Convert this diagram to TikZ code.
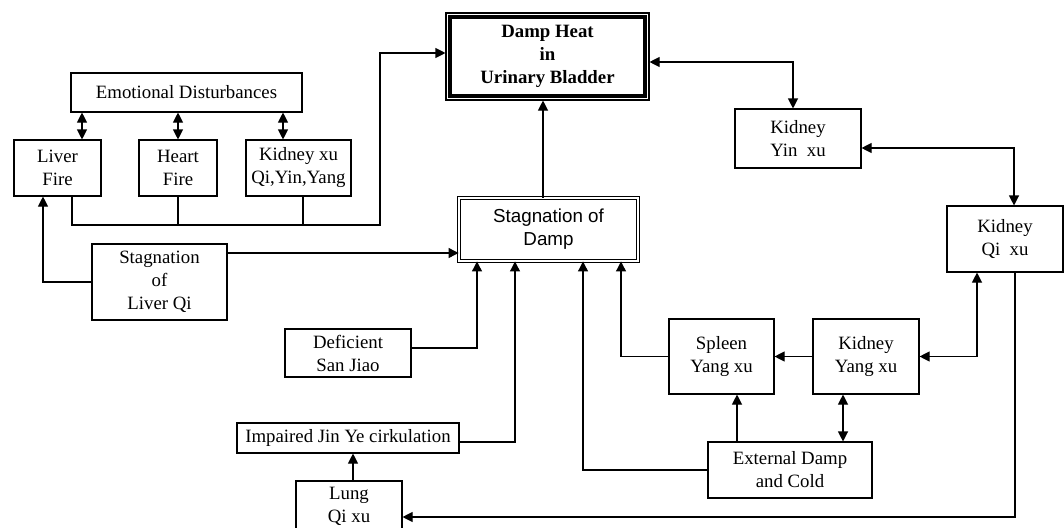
\documentclass[tikz,border=0pt]{standalone}
\usepackage{fontspec}
\setmainfont{Liberation Serif}
\newfontfamily\sansfnt{Liberation Sans}
\usetikzlibrary{arrows.meta}
\begin{document}
\begin{tikzpicture}[x=1pt,y=-1pt,
  line width=1.1pt,
  box/.style={draw, line width=1.1pt, align=center, inner sep=0pt,
    font=\fontsize{18.8}{23}\selectfont},
  arr/.style={-{Triangle[length=10pt,width=10pt]}},
  darr/.style={{Triangle[length=10pt,width=10pt]}-{Triangle[length=10pt,width=10pt]}}]
\useasboundingbox (0,0) rectangle (1064,527);
% nodes
\node[box, minimum width=203pt, minimum height=87pt, font=\fontsize{18.8}{23}\selectfont\bfseries] (dh) at (547.5,56.5) {Damp Heat\\in\\Urinary Bladder};
\draw[line width=4pt] ([xshift=5pt,yshift=-5pt]dh.north west) rectangle ([xshift=-5pt,yshift=5pt]dh.south east);
\node[box, minimum width=179pt, minimum height=63pt, double, line width=0.9pt, double distance=2pt, font=\sansfnt\fontsize{18.8}{23}\selectfont] (sd) at (548.5,229.5) {Stagnation of\\Damp};
\node[box, minimum width=231pt, minimum height=39pt] (ed) at (186.5,92.5) {Emotional Disturbances};
\node[box, minimum width=87pt, minimum height=56pt] (lf) at (57.5,168) {Liver\\Fire};
\node[box, minimum width=78pt, minimum height=56pt] (hf) at (178,168) {Heart\\Fire};
\node[box, minimum width=105pt, minimum height=56pt] (kx) at (298.5,168) {Kidney xu\\Qi,Yin,Yang};
\node[box, minimum width=135pt, minimum height=76pt] (slq) at (159.5,282) {Stagnation\\of\\Liver Qi};
\node[box, minimum width=126pt, minimum height=48pt] (dsj) at (348,353) {Deficient\\San Jiao};
\node[box, minimum width=222pt, minimum height=30pt] (ijy) at (348,438) {Impaired Jin Ye cirkulation};
\node[box, minimum width=106pt, minimum height=50pt] (lung) at (349,506) {Lung\\Qi xu};
\node[box, minimum width=126pt, minimum height=59pt] (kyin) at (798,138.5) {Kidney\\Yin~ xu};
\node[box, minimum width=116pt, minimum height=66pt] (kqi) at (1005,239) {Kidney\\Qi~ xu};
\node[box, minimum width=105pt, minimum height=75pt] (sy) at (721.5,356.5) {Spleen\\Yang xu};
\node[box, minimum width=106pt, minimum height=75pt] (kyang) at (866,356.5) {Kidney\\Yang xu};
\node[box, minimum width=164pt, minimum height=56pt] (edc) at (790,470) {External Damp\\and Cold};
\coordinate (bus) at (380,225);
% connectors
\draw[arr] ([xshift=14.5pt]lf.south) |- (bus) |- ([yshift=3.5pt]dh.west);
\draw (hf.south) -- (hf.south |- bus);
\draw ([xshift=4.5pt]kx.south) -- ([xshift=4.5pt]kx.south |- bus);
\draw[darr] ([xshift=24.5pt]lf.north |- ed.south) -- ([xshift=24.5pt]lf.north);
\draw[darr] (hf.north |- ed.south) -- (hf.north);
\draw[darr] ([xshift=-15.5pt]kx.north |- ed.south) -- ([xshift=-15.5pt]kx.north);
\draw[arr] (slq.west) -| ([xshift=-14.5pt]lf.south);
\draw[arr] ([yshift=29pt]slq.east) -- ([yshift=29pt]slq.east -| sd.west);
\draw[arr] ([xshift=-5.5pt]sd.north) -- ([xshift=-5.5pt]sd.north |- dh.south);
\draw[arr] ([yshift=5pt]dsj.east) -| ([xshift=-71.5pt]sd.south);
\draw[arr] ([yshift=-4pt]ijy.east) -| ([xshift=-33.5pt]sd.south);
\draw[arr] ([xshift=4pt]lung.north) -- ([xshift=4pt]lung.north |- ijy.south);
\draw[arr] (edc.west) -| ([xshift=34.5pt]sd.south);
\draw[arr] (sy.west) -| ([xshift=72.5pt]sd.south);
\draw[arr] (kyang.west) -- (sy.east);
\draw[arr] ([xshift=-53pt]edc.north) -- ([xshift=-53pt]edc.north |- sy.south);
\draw[darr] ([xshift=-23pt]kyang.south) -- ([xshift=-23pt]kyang.south |- edc.north);
\draw[darr] (kyang.east) -| ([xshift=-28pt]kqi.south);
\draw[arr] ([xshift=10pt]kqi.south) |- ([yshift=-11pt]lung.east);
\draw[darr] ([yshift=-5.5pt]dh.east) -| ([xshift=-5pt]kyin.north);
\draw[darr] ([yshift=-9.5pt]kyin.east) -| ([xshift=9pt]kqi.north);
\end{tikzpicture}
\end{document}
